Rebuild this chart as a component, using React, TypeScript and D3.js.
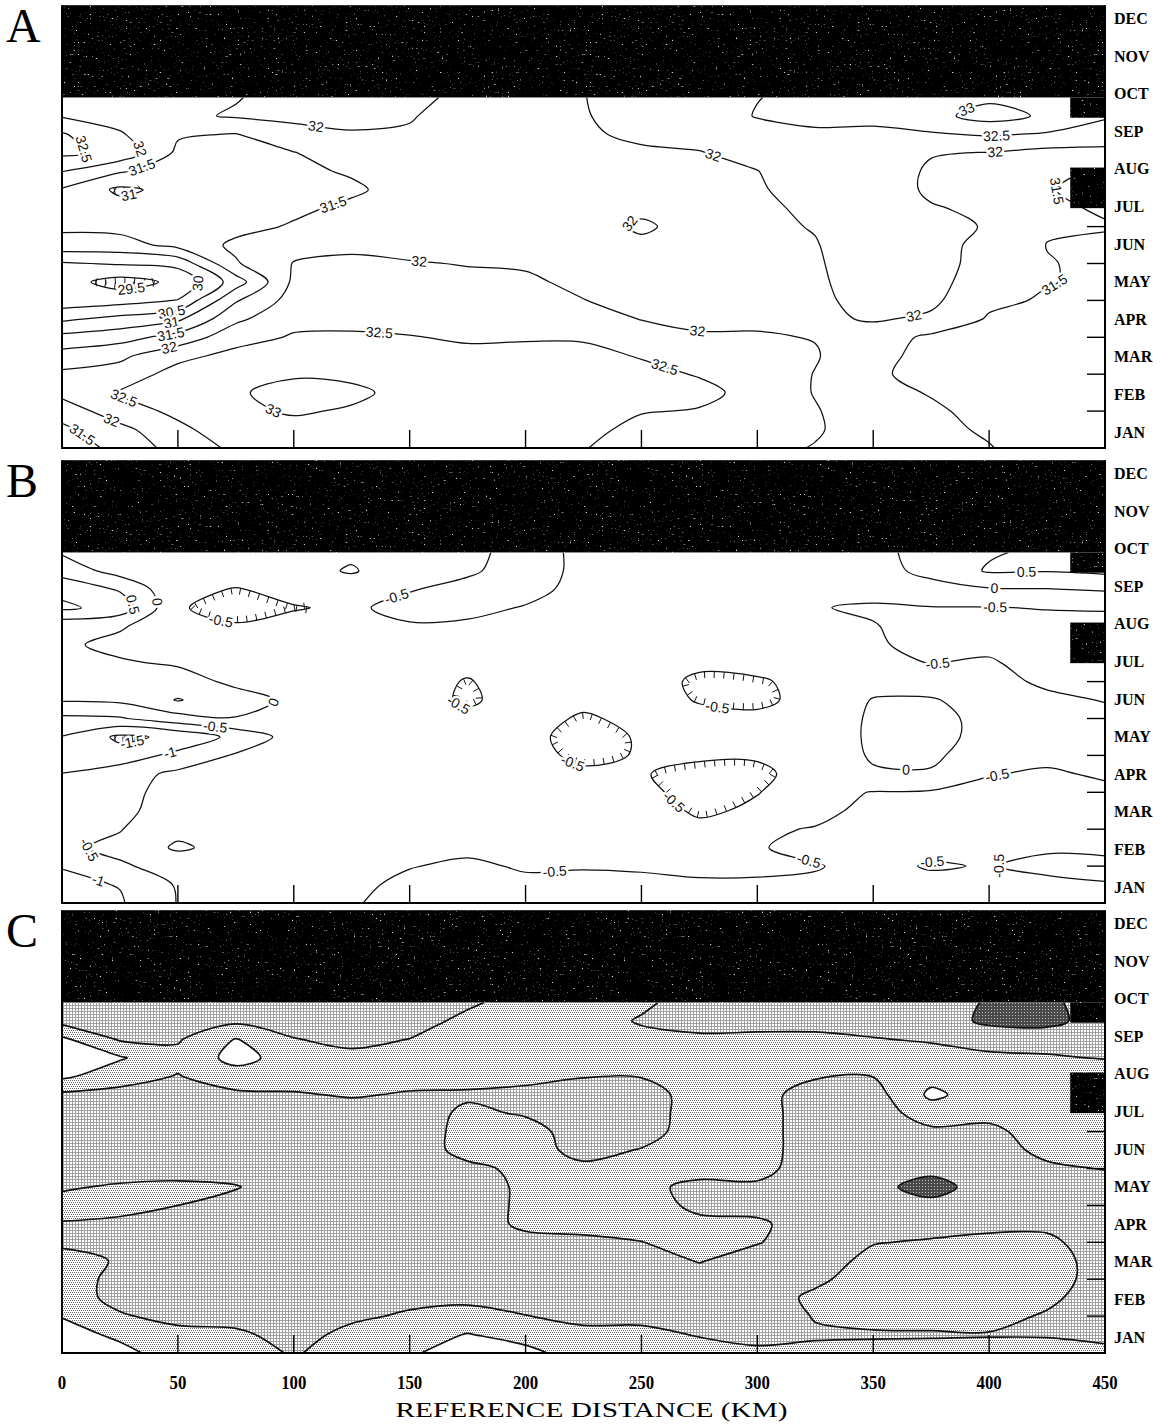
import React, { useEffect, useRef } from "react";
import * as d3 from "d3";

// grid of the gridded fields: distance columns (km) x time rows (months from 1 Jan)
const DIST_KM = [0, 25, 50, 75, 100, 125, 150, 175, 200, 225, 250, 275, 300, 325, 350, 375, 400, 425, 450];
const TIME_MO = [0, 0.5, 1, 1.5, 2, 2.5, 3, 3.5, 4, 4.5, 5, 5.5, 6, 6.5, 7, 7.5, 8, 8.5, 9, 9.5];
const MONTHS = ["JAN", "FEB", "MAR", "APR", "MAY", "JUN", "JUL", "AUG", "SEP", "OCT", "NOV", "DEC"];
const DIST_TICKS = [0, 50, 100, 150, 200, 250, 300, 350, 400, 450];
const MONTH_TICKS = [1, 2, 3, 4, 5, 6];
const NO_DATA_FROM = 9.5; // months: no data after this
const GAPS = [
  { d0: 435, d1: 450, t0: 8.95, t1: 9.5 },
  { d0: 435, d1: 450, t0: 6.5, t1: 7.6 },
];

const LEVELS_A = [29.5, 30, 30.5, 31, 31.5, 32, 32.5, 33];
const LEVELS_B = [-1.5, -1, -0.5, 0, 0.5, 1];
const LEVELS_C = [0.5, 1.5, 2.5];

// panel A: one array per distance column, values from JAN (bottom) upward
const FIELD_A = [
  [31.2, 31.4, 31.7, 32.15, 32.1, 31.7, 31.15, 30.4, 29.7, 29.7, 29.95, 30.8, 31.1, 31.25, 31.45, 32.02, 32.6, 32.55, 31.95, 31.85],
  [31.65, 31.85, 32.3, 32.55, 32.2, 31.9, 31.3, 30.65, 29.8, 29.3, 30.05, 30.8, 31.15, 31.2, 30.9, 31.55, 32.35, 32.05, 31.8, 31.75],
  [32.2, 32.4, 32.6, 32.75, 32.7, 32.35, 31.7, 30.9, 30.02, 29.6, 30.15, 31.15, 31.25, 31.2, 31.15, 31.25, 31.4, 31.55, 31.9, 31.8],
  [32.6, 32.75, 32.9, 32.95, 32.8, 32.65, 32.3, 31.9, 31.45, 30.75, 31.45, 31.6, 31.35, 31.25, 31.2, 31.25, 31.35, 31.48, 32.05, 31.97],
  [32.7, 32.85, 33.05, 33.15, 32.95, 32.75, 32.55, 32.35, 32.2, 32.1, 32.02, 31.85, 31.55, 31.4, 31.35, 31.4, 31.48, 31.85, 32.1, 32.2],
  [32.7, 32.85, 32.95, 33.1, 32.9, 32.7, 32.55, 32.4, 32.3, 32.2, 32.1, 31.9, 31.75, 31.6, 31.42, 31.55, 31.8, 31.97, 32.1, 32.2],
  [32.65, 32.75, 32.8, 32.85, 32.8, 32.65, 32.52, 32.35, 32.25, 32.15, 32.03, 31.85, 31.75, 31.7, 31.7, 31.75, 31.85, 31.97, 32.02, 32.1],
  [32.6, 32.65, 32.7, 32.75, 32.7, 32.6, 32.45, 32.3, 32.2, 32.1, 31.98, 31.85, 31.75, 31.72, 31.72, 31.75, 31.8, 31.85, 31.88, 31.9],
  [32.6, 32.65, 32.7, 32.72, 32.7, 32.6, 32.47, 32.3, 32.15, 32.07, 31.95, 31.85, 31.8, 31.78, 31.8, 31.82, 31.85, 31.88, 31.9, 31.92],
  [32.52, 32.6, 32.65, 32.68, 32.65, 32.58, 32.47, 32.25, 32.01, 31.9, 31.85, 31.83, 31.85, 31.85, 31.85, 31.88, 31.9, 31.93, 31.96, 31.98],
  [32.3, 32.4, 32.52, 32.6, 32.58, 32.48, 32.25, 31.98, 31.85, 31.82, 31.85, 31.93, 32.05, 31.93, 31.85, 31.85, 31.92, 32.1, 32.25, 32.35],
  [32.2, 32.3, 32.48, 32.58, 32.48, 32.25, 32.05, 31.9, 31.85, 31.82, 31.82, 31.85, 31.87, 31.88, 31.9, 31.93, 31.98, 32.15, 32.3, 32.4],
  [32.15, 32.25, 32.35, 32.4, 32.35, 32.2, 32.05, 31.9, 31.85, 31.85, 31.85, 31.87, 31.88, 31.9, 31.95, 31.99, 32.15, 32.35, 32.52, 32.49],
  [31.97, 32.06, 32.04, 31.97, 31.98, 32.04, 31.98, 31.9, 31.88, 31.9, 31.93, 31.97, 32.03, 32.1, 32.2, 32.3, 32.4, 32.47, 32.55, 32.6],
  [31.75, 31.7, 31.65, 31.6, 31.55, 31.6, 31.75, 32.05, 32.2, 32.3, 32.35, 32.35, 32.3, 32.25, 32.25, 32.3, 32.38, 32.46, 32.55, 32.6],
  [31.65, 31.6, 31.55, 31.48, 31.4, 31.4, 31.4, 31.92, 32.1, 32.15, 32.15, 32.12, 32.08, 32.03, 31.93, 31.93, 32.03, 32.45, 32.85, 32.75],
  [31.52, 31.45, 31.4, 31.35, 31.3, 31.3, 31.35, 31.45, 31.6, 31.75, 31.85, 31.9, 31.98, 31.92, 31.85, 31.85, 31.98, 32.55, 33.2, 32.9],
  [31.3, 31.25, 31.2, 31.15, 31.15, 31.2, 31.25, 31.35, 31.45, 31.52, 31.52, 31.49, 31.55, 31.55, 31.52, 31.6, 31.85, 32.45, 32.92, 32.65],
  [31.25, 31.2, 31.15, 31.1, 31.1, 31.15, 31.2, 31.3, 31.38, 31.42, 31.42, 31.45, 31.52, 31.47, 31.4, 31.45, 31.85, 32.3, 32.55, 32.6],
];

// panel B: anomaly field, same layout
const FIELD_B = [
  [-1.2, -1.1, -0.98, -0.58, -0.7, -0.75, -0.8, -0.99, -1.25, -1.02, -0.6, 0.05, 0.2, 0.2, 0.08, 0.15, 1.1, 0.85, 0.3, -0.05],
  [-1.05, -0.98, -0.55, -0.4, -0.52, -0.6, -0.58, -0.7, -1.3, -1.6, -0.55, 0.1, 0.15, 0.05, -0.12, 0.05, 0.8, 0.45, -0.2, -0.3],
  [-0.48, -0.45, -0.35, 0.08, -0.15, -0.3, -0.4, -0.4, -0.85, -1.4, -0.2, 0.53, 0.2, -0.05, -0.2, -0.3, -0.45, -0.4, -0.3, -0.3],
  [-0.4, -0.35, -0.3, -0.2, -0.25, -0.3, -0.35, -0.38, -0.45, -0.85, -0.02, 0.2, -0.1, -0.2, -0.3, -0.45, -0.7, -0.52, -0.3, -0.2],
  [-0.4, -0.35, -0.3, -0.28, -0.3, -0.3, -0.32, -0.35, -0.35, -0.3, -0.2, -0.1, -0.15, -0.25, -0.3, -0.4, -0.52, -0.4, -0.2, -0.15],
  [-0.45, -0.4, -0.35, -0.3, -0.3, -0.3, -0.3, -0.3, -0.28, -0.25, -0.2, -0.2, -0.25, -0.3, -0.35, -0.4, -0.45, -0.3, 0.05, -0.1],
  [-0.7, -0.6, -0.48, -0.35, -0.3, -0.3, -0.3, -0.3, -0.3, -0.3, -0.3, -0.35, -0.38, -0.4, -0.42, -0.47, -0.6, -0.48, -0.35, -0.3],
  [-0.75, -0.7, -0.58, -0.4, -0.3, -0.28, -0.28, -0.3, -0.32, -0.35, -0.42, -0.55, -0.52, -0.42, -0.4, -0.45, -0.58, -0.6, -0.45, -0.4],
  [-0.7, -0.6, -0.45, -0.35, -0.3, -0.28, -0.3, -0.32, -0.35, -0.35, -0.35, -0.35, -0.35, -0.35, -0.38, -0.42, -0.48, -0.6, -0.65, -0.65],
  [-0.65, -0.58, -0.48, -0.35, -0.3, -0.3, -0.33, -0.42, -0.6, -0.7, -0.55, -0.4, -0.35, -0.33, -0.33, -0.35, -0.38, -0.4, -0.42, -0.42],
  [-0.62, -0.56, -0.47, -0.38, -0.33, -0.35, -0.4, -0.48, -0.47, -0.45, -0.4, -0.38, -0.38, -0.37, -0.35, -0.33, -0.33, -0.33, -0.33, -0.33],
  [-0.6, -0.53, -0.45, -0.4, -0.42, -0.55, -0.65, -0.6, -0.45, -0.38, -0.42, -0.52, -0.55, -0.45, -0.38, -0.35, -0.33, -0.32, -0.3, -0.3],
  [-0.65, -0.52, -0.47, -0.48, -0.45, -0.45, -0.51, -0.6, -0.45, -0.35, -0.45, -0.55, -0.53, -0.42, -0.38, -0.38, -0.4, -0.38, -0.35, -0.35],
  [-0.7, -0.55, -0.48, -0.58, -0.52, -0.4, -0.35, -0.3, -0.3, -0.3, -0.35, -0.42, -0.42, -0.4, -0.4, -0.42, -0.48, -0.38, -0.3, -0.3],
  [-0.7, -0.65, -0.6, -0.62, -0.65, -0.6, -0.52, -0.05, 0.05, 0.08, 0.08, 0.03, -0.2, -0.4, -0.45, -0.48, -0.55, -0.35, -0.2, -0.15],
  [-0.7, -0.6, -0.47, -0.6, -0.68, -0.65, -0.55, -0.05, 0.1, 0.15, 0.15, 0.05, -0.3, -0.51, -0.62, -0.65, -0.52, -0.2, 0.15, 0.2],
  [-0.65, -0.58, -0.52, -0.58, -0.65, -0.65, -0.6, -0.48, -0.3, -0.15, -0.15, -0.25, -0.35, -0.45, -0.6, -0.65, -0.52, -0.05, 0.55, 0.45],
  [-0.7, -0.6, -0.4, -0.55, -0.62, -0.62, -0.6, -0.55, -0.4, -0.3, -0.3, -0.4, -0.58, -0.68, -0.7, -0.65, -0.48, -0.02, 0.52, 0.6],
  [-0.7, -0.52, -0.4, -0.58, -0.65, -0.62, -0.58, -0.45, -0.35, -0.3, -0.38, -0.52, -0.65, -0.75, -0.75, -0.7, -0.45, 0.05, 0.6, 0.6],
];

// panel C: class field (0 clear, 1 light stipple, 2 medium stipple, 3 dark)
const FIELD_C = [
  [0.0, 0.1, 0.55, 1.0, 1.0, 1.1, 1.7, 1.55, 1.2, 1.6, 2, 2, 2, 2, 1.7, 0.3, 0.1, 0.3, 1.8, 2],
  [0.2, 0.7, 1.4, 1.8, 1.8, 1.6, 1.9, 1.7, 1.2, 1.4, 1.9, 2, 2, 2, 1.8, 1.1, 0.4, 1.6, 2, 2],
  [1.0, 1.2, 1.8, 2, 2, 2, 2, 1.9, 1.5, 1.3, 1.9, 2, 2, 2, 1.9, 1.55, 1.2, 1.6, 2, 2],
  [1.0, 1.3, 1.9, 2, 2, 2, 2, 2, 1.8, 1.45, 1.9, 2, 2, 2, 1.7, 0.9, 0.2, 0.45, 1.7, 2],
  [1.6, 1.9, 2, 2, 2, 2, 2, 2, 2, 2, 2, 2, 2, 2, 1.6, 1.0, 0.9, 1.45, 2, 2],
  [1.0, 1.2, 1.7, 2, 2, 2, 2, 2, 2, 2, 2, 2, 2, 2, 1.4, 1.0, 1.2, 1.8, 2, 2],
  [0.6, 1.0, 1.35, 1.8, 2, 2, 2, 2, 2, 2, 2, 2, 2, 2, 1.6, 1.1, 1.2, 1.48, 2, 2],
  [0.1, 0.45, 1.2, 1.7, 2, 2, 2, 2, 2, 2, 1.7, 1.2, 1.2, 1.3, 1.65, 1.1, 1.0, 1.0, 1.2, 1.7],
  [0.2, 0.9, 1.48, 1.8, 2, 2, 1.8, 1.3, 1.3, 1.3, 1.3, 1.1, 1.1, 1.6, 1.8, 1.2, 1.0, 1.0, 1.0, 1.0],
  [1.0, 1.3, 1.7, 2, 2, 2, 1.7, 1.2, 1.0, 1.0, 1.3, 1.8, 2, 2, 2, 1.45, 1.1, 1.0, 1.0, 1.0],
  [1.0, 1.3, 1.7, 2, 2, 1.9, 1.52, 1.1, 1.1, 1.3, 1.2, 1.45, 1.9, 2, 2, 1.45, 1.1, 1.2, 1.6, 1.3],
  [1.2, 1.55, 2, 2, 1.9, 1.45, 1.1, 1.3, 1.7, 1.7, 1.2, 1.0, 1.0, 1.0, 1.0, 1.0, 1.0, 1.3, 1.9, 2],
  [1.3, 1.8, 2, 2, 2, 1.9, 1.45, 1.4, 1.7, 1.65, 1.2, 1.1, 1.1, 1.1, 1.1, 1.0, 1.0, 1.3, 1.8, 2],
  [1.3, 1.6, 1.45, 1.3, 1.7, 2, 2, 1.8, 2, 2, 2, 2, 2, 2, 2, 1.4, 1.0, 1.3, 1.8, 2],
  [1.2, 1.6, 1.2, 1.0, 1.0, 1.2, 1.55, 2, 2, 2.2, 2, 2, 2, 2, 1.9, 1.48, 1.1, 1.45, 1.9, 2],
  [1.2, 1.58, 1.2, 1.0, 1.0, 1.1, 1.4, 1.9, 2.2, 2.9, 2.2, 2, 1.7, 1.0, 0.3, 0.8, 1.1, 1.6, 2, 2],
  [1.2, 1.55, 1.2, 1.0, 1.0, 1.0, 1.3, 1.7, 2, 2, 2, 2, 1.75, 1.2, 1.0, 1.0, 1.3, 1.9, 2.7, 2.6],
  [1.25, 1.55, 1.6, 1.3, 1.0, 1.0, 1.3, 1.7, 2, 2, 1.7, 1.2, 1.0, 0.8, 0.6, 0.9, 1.4, 1.9, 2.8, 2.7],
  [1.3, 1.7, 2, 2, 2, 2, 2, 2, 2, 2, 1.45, 1.1, 1.0, 0.6, 0.4, 0.8, 1.55, 1.9, 2, 2],
];

const W = 1162;
const H = 1426;
const X0 = 62;
const X1 = 1105;
const MONTH_PX = 36.9;

const PANELS = [
  { id: "A", bottom: 448, field: FIELD_A, levels: LEVELS_A, filled: false },
  { id: "B", bottom: 903, field: FIELD_B, levels: LEVELS_B, filled: false },
  { id: "C", bottom: 1353, field: FIELD_C, levels: LEVELS_C, filled: true },
];

type Pt = [number, number];

const openCurve = d3.line().curve(d3.curveCatmullRom.alpha(0.5));
const closedCurve = d3.line().curve(d3.curveCatmullRomClosed.alpha(0.5));

function dedupe(pts: Pt[]) {
  return pts.filter((p, i) => i === 0 || Math.abs(p[0] - pts[i - 1][0]) > 0.01 || Math.abs(p[1] - pts[i - 1][1]) > 0.01);
}

// split a contour ring into the pieces that run inside the data or along the frame
function splitRing(ring: Pt[], onEdge: (p: Pt) => boolean) {
  const pts = ring.slice();
  const a = pts[0], b = pts[pts.length - 1];
  if (pts.length > 1 && a[0] === b[0] && a[1] === b[1]) pts.pop();
  const k = pts.findIndex(onEdge);
  if (k < 0) return { closed: pts, pieces: [] as { edge: boolean; pts: Pt[] }[] };
  const rot = pts.slice(k).concat(pts.slice(0, k));
  const pieces: { edge: boolean; pts: Pt[] }[] = [];
  rot.forEach((q) => {
    const e = onEdge(q);
    const last = pieces[pieces.length - 1];
    if (last && last.edge === e) last.pts.push(q);
    else pieces.push({ edge: e, pts: [q] });
  });
  return { closed: null, pieces };
}

export default function App() {
  const ref = useRef<SVGSVGElement>(null);

  useEffect(() => {
    const svg = d3.select(ref.current);
    svg.selectAll("*").remove();
    const defs = svg.append("defs");

    // speckled "no data" texture
    const f = defs.append("filter").attr("id", "speckle").attr("x", 0).attr("y", 0).attr("width", 1).attr("height", 1);
    f.append("feTurbulence").attr("type", "fractalNoise").attr("baseFrequency", 0.5).attr("numOctaves", 3).attr("seed", 11);
    f.append("feColorMatrix").attr("type", "matrix")
      .attr("values", "0 0 0 0 0.7  0 0 0 0 0.7  0 0 0 0 0.7  9 0 0 0 -6.3");

    const pLight = defs.append("pattern").attr("id", "pat-light").attr("width", 4).attr("height", 4).attr("patternUnits", "userSpaceOnUse");
    pLight.append("rect").attr("width", 4).attr("height", 4).attr("fill", "#fff");
    [[0, 0], [2, 0], [1, 2], [3, 2]].forEach(([px, py]) =>
      pLight.append("rect").attr("x", px).attr("y", py).attr("width", 1).attr("height", 1).attr("fill", "#6a6a6a"));

    const pMid = defs.append("pattern").attr("id", "pat-mid").attr("width", 3).attr("height", 3).attr("patternUnits", "userSpaceOnUse");
    pMid.append("rect").attr("width", 3).attr("height", 3).attr("fill", "#fff");
    pMid.append("rect").attr("width", 3).attr("height", 1).attr("fill", "#a0a0a0");
    pMid.append("rect").attr("width", 1).attr("height", 3).attr("fill", "#a0a0a0");

    const pDark = defs.append("pattern").attr("id", "pat-dark").attr("width", 3).attr("height", 3).attr("patternUnits", "userSpaceOnUse");
    pDark.append("rect").attr("width", 3).attr("height", 3).attr("fill", "#4a4a4a");
    pDark.append("rect").attr("x", 1).attr("y", 1).attr("width", 1).attr("height", 1).attr("fill", "#c0c0c0");

    const x = d3.scaleLinear().domain([0, 450]).range([X0, X1]);
    const nx = DIST_KM.length;
    const ny = TIME_MO.length;
    const di = d3.scaleLinear().domain(d3.range(nx)).range(DIST_KM).clamp(true);
    const ti = d3.scaleLinear().domain(d3.range(ny)).range(TIME_MO).clamp(true);
    const onEdge = (c: Pt) =>
      c[0] < 0.5 - 1e-6 || c[0] > nx - 0.5 + 1e-6 || c[1] < 0.5 - 1e-6 || c[1] > ny - 0.5 + 1e-6;

    PANELS.forEach((p) => {
      const y = d3.scaleLinear().domain([0, 12]).range([p.bottom, p.bottom - 12 * MONTH_PX]);
      const top = y(12);
      const dataTop = y(NO_DATA_FROM);
      const toPx = (c: Pt): Pt => [x(di(c[0] - 0.5)), y(ti(c[1] - 0.5))];

      const values: number[] = [];
      for (let j = 0; j < ny; j++) for (let i = 0; i < nx; i++) values.push(p.field[i][j]);
      const sets = d3.contours().size([nx, ny]).thresholds(p.levels)(values);

      defs.append("clipPath").attr("id", `clip-${p.id}`)
        .append("rect").attr("x", X0).attr("y", dataTop).attr("width", X1 - X0).attr("height", p.bottom - dataTop);
      const g = svg.append("g");
      const body = g.append("g").attr("clip-path", `url(#clip-${p.id})`);
      const fillLayer = body.append("g");
      const lineLayer = body.append("g");
      const hachLayer = body.append("g");
      const labelLayer = body.append("g");

      // ring -> path string: curves inside the data, straight runs along the frame
      const ringPath = (ring: Pt[]) => {
        const s = splitRing(ring, onEdge);
        if (s.closed) return closedCurve(dedupe(s.closed.map(toPx))) || "";
        let d = "";
        s.pieces.forEach((pc, i) => {
          const px = pc.pts.map(toPx);
          if (pc.edge) {
            px.forEach((q, k) => { d += (i === 0 && k === 0 ? "M" : "L") + q[0] + "," + q[1]; });
          } else {
            const c = openCurve(dedupe(px)) || "";
            d += i === 0 ? c : c.replace(/^M/, "L");
          }
        });
        return d + "Z";
      };

      if (p.filled) {
        fillLayer.append("rect").attr("x", X0).attr("y", dataTop).attr("width", X1 - X0).attr("height", p.bottom - dataTop).attr("fill", "#fff");
        const fills = ["url(#pat-light)", "url(#pat-mid)", "url(#pat-dark)"];
        sets.forEach((mp: any, k: number) => {
          const d = mp.coordinates.map((poly: Pt[][]) => poly.map((r) => ringPath(r)).join("")).join("");
          fillLayer.append("path").attr("d", d).attr("fill", fills[k]).attr("fill-rule", "evenodd");
        });
      }

      sets.forEach((mp: any) => {
        mp.coordinates.forEach((poly: Pt[][]) => {
          poly.forEach((ring, ri) => {
            const s = splitRing(ring, onEdge);
            const lines: { d: string; closed: boolean; hole: boolean }[] = [];
            if (s.closed) {
              lines.push({ d: closedCurve(dedupe(s.closed.map(toPx))) || "", closed: true, hole: ri > 0 });
            } else {
              s.pieces.filter((pc) => !pc.edge && pc.pts.length > 1).forEach((pc) => {
                lines.push({ d: openCurve(dedupe(pc.pts.map(toPx))) || "", closed: false, hole: false });
              });
            }
            lines.forEach((ln) => {
              const path = lineLayer.append("path").attr("d", ln.d).attr("fill", "none")
                .attr("stroke", "#111").attr("stroke-width", p.filled ? 1.7 : 1.25).attr("stroke-linejoin", "round");
              if (p.filled) return;
              const node = path.node() as SVGPathElement;
              const L = node.getTotalLength();
              const at = (s: number) => { const q = node.getPointAtLength(Math.max(0, Math.min(L, s))); return [q.x, q.y] as Pt; };

              // hachures on closed lows, pointing downhill
              if (ln.closed && ln.hole && L > 20) {
                const poly = d3.range(80).map((i) => at((L * i) / 80));
                const n = Math.max(4, Math.round(L / 10));
                for (let i = 0; i < n; i++) {
                  const s0 = ((i + 0.5) * L) / n;
                  const a = at(s0), b = at(s0 + 1.5), c = at(s0 - 1.5);
                  const tx = b[0] - c[0], ty = b[1] - c[1];
                  const tl = Math.hypot(tx, ty) || 1;
                  let nxv = -ty / tl, nyv = tx / tl;
                  if (!d3.polygonContains(poly, [a[0] + nxv * 2, a[1] + nyv * 2])) { nxv = -nxv; nyv = -nyv; }
                  hachLayer.append("line").attr("x1", a[0]).attr("y1", a[1])
                    .attr("x2", a[0] + nxv * 6.5).attr("y2", a[1] + nyv * 6.5)
                    .attr("stroke", "#111").attr("stroke-width", 1);
                }
              }

              // contour labels
              let spots: number[] = [];
              if (ln.closed) { if (L > 70) spots = [L * 0.3]; }
              else if (L > 45) {
                if (L < 320) spots = [L / 2];
                else for (let s0 = 110; s0 < L - 40; s0 += 290) spots.push(s0);
              }
              spots.forEach((s0) => {
                const a = at(s0), b = at(s0 + 8), c = at(s0 - 8);
                if (a[1] < dataTop + 8 || a[0] < X0 + 12 || a[0] > X1 - 10 || a[1] > p.bottom - 6) return;
                let ang = (Math.atan2(b[1] - c[1], b[0] - c[0]) * 180) / Math.PI;
                if (ang > 90) ang -= 180;
                if (ang < -90) ang += 180;
                labelLayer.append("text").attr("transform", `translate(${a[0]},${a[1]}) rotate(${ang})`)
                  .attr("text-anchor", "middle").attr("dy", "0.35em")
                  .attr("font-family", "Liberation Sans, Arial, sans-serif").attr("font-size", 14)
                  .attr("fill", "#111").attr("stroke", "#fff").attr("stroke-width", 5)
                  .attr("paint-order", "stroke").attr("stroke-linejoin", "round")
                  .text(String(mp.value));
              });
            });
          });
        });
      });

      // no-data areas
      const dark = (x0: number, y0: number, w: number, h: number) => {
        g.append("rect").attr("x", x0).attr("y", y0).attr("width", w).attr("height", h).attr("fill", "#000");
        g.append("rect").attr("x", x0).attr("y", y0).attr("width", w).attr("height", h).attr("fill", "#000").attr("filter", "url(#speckle)");
      };
      dark(X0, top, X1 - X0, dataTop - top);
      GAPS.forEach((gp) => dark(x(gp.d0), y(gp.t1), x(gp.d1) - x(gp.d0), y(gp.t0) - y(gp.t1)));

      // frame and ticks
      g.append("path").attr("d", `M${X0},${top}V${p.bottom}H${X1}V${top}`)
        .attr("fill", "none").attr("stroke", "#000").attr("stroke-width", 2);
      DIST_TICKS.slice(1).forEach((km) => {
        g.append("line").attr("x1", x(km)).attr("x2", x(km)).attr("y1", p.bottom).attr("y2", p.bottom - 18)
          .attr("stroke", "#000").attr("stroke-width", 1.4);
      });
      MONTH_TICKS.forEach((t) => {
        g.append("line").attr("x1", X1 - 18).attr("x2", X1).attr("y1", y(t)).attr("y2", y(t))
          .attr("stroke", "#000").attr("stroke-width", 1.4);
      });
      MONTHS.forEach((m, i) => {
        g.append("text").attr("x", 1114).attr("y", p.bottom - 16 - i * 37.6).attr("dy", "0.35em")
          .attr("font-family", "Liberation Serif, Times New Roman, serif").attr("font-weight", "bold")
          .attr("font-size", 16).attr("fill", "#000").text(m);
      });
      g.append("text").attr("x", 6).attr("y", top + 37)
        .attr("font-family", "Liberation Serif, Times New Roman, serif").attr("font-size", 48)
        .attr("fill", "#000").text(p.id);
    });

    const last = PANELS[PANELS.length - 1];
    DIST_TICKS.forEach((km) => {
      const s = String(km);
      svg.append("text").attr("x", x(km)).attr("y", last.bottom + 36).attr("text-anchor", "middle")
        .attr("font-family", "Liberation Serif, Times New Roman, serif").attr("font-weight", "bold")
        .attr("font-size", 18).attr("textLength", s.length * 8.4).attr("lengthAdjust", "spacingAndGlyphs")
        .attr("fill", "#000").text(s);
    });
    svg.append("text").attr("x", (X0 + X1) / 2 + 8).attr("y", last.bottom + 64).attr("text-anchor", "middle")
      .attr("font-family", "Liberation Serif, Times New Roman, serif").attr("font-size", 22)
      .attr("textLength", 392).attr("lengthAdjust", "spacingAndGlyphs")
      .attr("fill", "#000").text("REFERENCE DISTANCE (KM)");
  }, []);

  return <svg ref={ref} width={W} height={H} style={{ position: "absolute", left: 0, top: 0, background: "#fff" }} />;
}
